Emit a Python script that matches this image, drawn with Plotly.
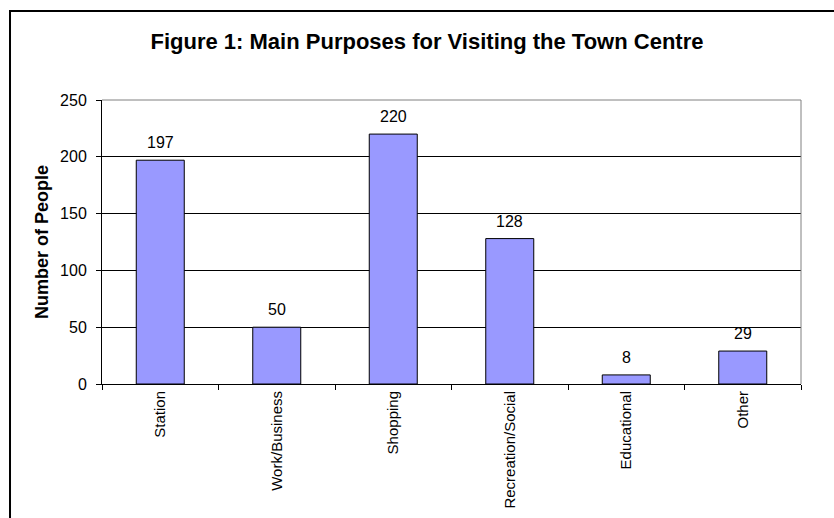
import plotly.graph_objects as go

# Survey responses: main purpose for visiting the town centre
categories = ["Station", "Work/Business", "Shopping", "Recreation/Social", "Educational", "Other"]
people = [197, 50, 220, 128, 8, 29]
y_ticks = [0, 50, 100, 150, 200, 250]

FONT = "Liberation Sans, Arial, sans-serif"

fig = go.Figure()
fig.add_trace(go.Bar(
    x=categories,
    y=people,
    marker=dict(color="#9999FF", line=dict(color="#000000", width=1)),
    hoverinfo="x+y",
))

# Value labels above each bar
for cat, val in zip(categories, people):
    fig.add_annotation(
        x=cat, y=val, text=str(val), showarrow=False,
        xref="x", yref="y", yanchor="bottom", yshift=7,
        font=dict(family=FONT, size=16, color="#000000"),
    )

# Plot-area frame: grey top and right edges
fig.add_shape(type="line", xref="paper", yref="paper", x0=0, x1=1, y0=1, y1=1,
              line=dict(color="#808080", width=1), layer="above")
fig.add_shape(type="line", xref="paper", yref="paper", x0=1, x1=1, y0=0, y1=1,
              line=dict(color="#808080", width=1), layer="above")

# Chart-area border
fig.add_shape(type="rect", xref="paper", yref="paper",
              x0=-0.1316, x1=1.2, y0=-0.8, y1=1.3133,
              line=dict(color="#000000", width=2), fillcolor="rgba(0,0,0,0)", layer="above")

fig.update_layout(
    width=834, height=518,
    margin=dict(l=102, r=33, t=100, b=134),
    paper_bgcolor="#FFFFFF", plot_bgcolor="#FFFFFF",
    font=dict(family=FONT, color="#000000"),
    bargap=0.588,
    showlegend=False,
    title=dict(
        text="<b>Figure 1: Main Purposes for Visiting the Town Centre</b>",
        x=427 / 834, xanchor="center", xref="container",
        y=1 - 41 / 518, yanchor="middle", yref="container",
        font=dict(family=FONT, size=22, color="#000000"),
    ),
)

fig.update_xaxes(
    type="category",
    tickangle=-90,
    tickfont=dict(family=FONT, size=15, color="#000000"),
    ticks="outside", ticklen=5, tickcolor="#000000", tickwidth=1,
    tickson="boundaries",
    showline=True, linecolor="#000000", linewidth=1,
    showgrid=False, zeroline=False,
    automargin=False,
)

fig.update_yaxes(
    range=[0, 250],
    tickvals=y_ticks,
    ticktext=[str(v) for v in y_ticks],
    tickfont=dict(family=FONT, size=16, color="#000000"),
    ticks="outside", ticklen=5, tickcolor="#000000", tickwidth=1,
    ticklabelstandoff=6,
    showline=True, linecolor="#000000", linewidth=1,
    showgrid=True, gridcolor="#000000", gridwidth=1,
    zeroline=False,
    automargin=False,
    title=dict(text="<b>Number of People</b>", standoff=6,
               font=dict(family=FONT, size=18, color="#000000")),
)

fig.write_html("out.html")
